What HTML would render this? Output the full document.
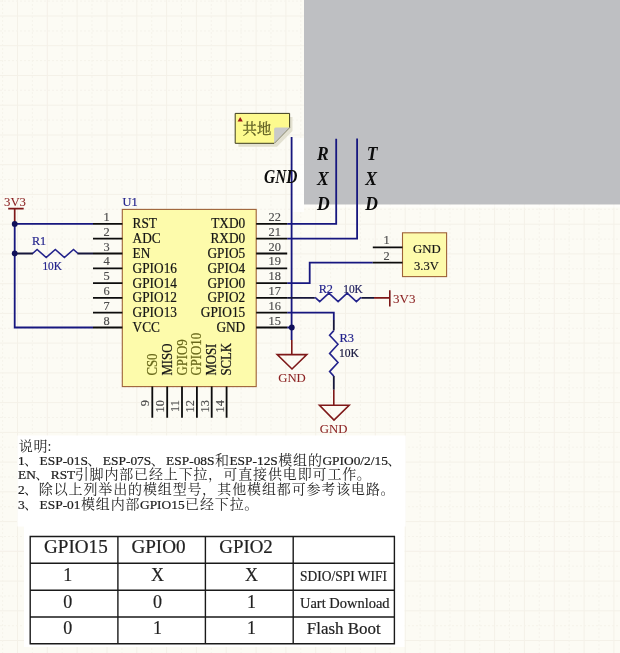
<!DOCTYPE html>
<html><head><meta charset="utf-8"><title>ESP8266 minimal circuit</title>
<style>html,body{margin:0;padding:0;background:#fcfbf4;}svg{display:block;font-family:"Liberation Serif",serif;will-change:transform;}</style>
</head><body>
<svg width="620" height="653" viewBox="0 0 620 653">
<rect x="0" y="0" width="620" height="653" fill="#fcfbf4"/>
<path d="M17.5 0V653M47.3 0V653M77.1 0V653M107.0 0V653M136.8 0V653M166.6 0V653M196.4 0V653M226.2 0V653M256.1 0V653M285.9 0V653M315.7 0V653M345.5 0V653M375.3 0V653M405.2 0V653M435.0 0V653M464.8 0V653M494.6 0V653M524.4 0V653M554.3 0V653M584.1 0V653M613.9 0V653M0 16.0H620M0 45.7H620M0 75.5H620M0 105.2H620M0 135.0H620M0 164.7H620M0 194.4H620M0 224.2H620M0 253.9H620M0 283.7H620M0 313.4H620M0 343.1H620M0 372.9H620M0 402.6H620M0 432.4H620M0 462.1H620M0 491.8H620M0 521.6H620M0 551.3H620M0 581.1H620M0 610.8H620M0 640.5H620" stroke="#f4f1e8" stroke-width="1" fill="none"/>
<path d="M2.6 0V653M32.4 0V653M62.2 0V653M92.0 0V653M121.9 0V653M151.7 0V653M181.5 0V653M211.3 0V653M241.1 0V653M271.0 0V653M300.8 0V653M330.6 0V653M360.4 0V653M390.2 0V653M420.1 0V653M449.9 0V653M479.7 0V653M509.5 0V653M539.3 0V653M569.2 0V653M599.0 0V653M0 1.1H620M0 30.9H620M0 60.6H620M0 90.3H620M0 120.1H620M0 149.8H620M0 179.6H620M0 209.3H620M0 239.1H620M0 268.8H620M0 298.5H620M0 328.3H620M0 358.0H620M0 387.8H620M0 417.5H620M0 447.2H620M0 477.0H620M0 506.7H620M0 536.5H620M0 566.2H620M0 595.9H620M0 625.7H620" stroke="#f5f3eb" stroke-width="1" stroke-dasharray="2 2" fill="none"/>
<rect x="304" y="0" width="316" height="204.6" fill="#bebfc2"/>
<rect x="292.5" y="138" width="11.5" height="74" fill="#ffffff" opacity="0.75"/><rect x="304" y="204.6" width="316" height="3" fill="#ffffff" opacity="0.5"/>
<rect x="17.4" y="435.5" width="388.2" height="91" fill="#ffffff"/><rect x="24" y="526" width="380.5" height="121" fill="#ffffff"/>
<path d="M238.4 117.1H292.5V131L277 146.7H238.4Z" fill="#e3e1d1"/>
<path d="M235.2 113.4H289.6V127.6L274.1 143.3H235.2Z" fill="#fdfa8e" stroke="#3c3c1c" stroke-width="1"/>
<path d="M274.1 143.3V129.2Q274.1 127.6 275.7 127.6H289.6Z" fill="#c9c9c9"/>
<path d="M237.6 121.6L240.2 117L242.8 121.6Z" fill="#a01818"/>
<text x="242.40 257.00" y="133.9" font-size="14.3" fill="#5e5e22" stroke="#5e5e22" stroke-width="0.3" font-family="'Liberation Serif','Noto Serif CJK SC',serif">共地</text>
<path d="M14.7 223.9H93.0 M14.7 223.9V327.5H93.0" stroke="#17177f" stroke-width="1.8" fill="none" />
<path d="M14.7 253.5H33 M77.4 253.5H93.0" stroke="#16163a" stroke-width="1.8" fill="none" />
<path d="M32.6 253.5L37.1 249.5L46.2 257.5L55.3 249.5L64.4 257.5L73.5 249.5L78.0 253.5" stroke="#23238c" stroke-width="1.6" fill="none" />
<path d="M14.7 223.9V208.6 M8.2 208.6H23.7" stroke="#7e1818" stroke-width="1.7" fill="none" />
<circle cx="14.7" cy="223.9" r="2.9" fill="#10105a"/><circle cx="14.7" cy="253.5" r="2.9" fill="#10105a"/>
<path d="M287.2 223.9H336.2V138.8" stroke="#17177f" stroke-width="1.8" fill="none" />
<path d="M287.2 238.7H357.1V138.5" stroke="#17177f" stroke-width="1.8" fill="none" />
<path d="M291.6 137V340 M287.2 327.5H291.6" stroke="#17177f" stroke-width="1.8" fill="none" />
<path d="M287.2 283.1H309.7V262.7H372.8" stroke="#17177f" stroke-width="1.8" fill="none" />
<path d="M287.2 297.9H314.8 M361.3 297.9H374" stroke="#16163a" stroke-width="1.8" fill="none" />
<path d="M315.1 297.4L319.7 301.7L328.9 293.1L338.1 301.7L347.2 293.1L356.4 301.7L361.0 297.4" stroke="#23238c" stroke-width="1.6" fill="none" />
<path d="M374 297.9H389.8 M389.8 290.3V306.6" stroke="#7e1818" stroke-width="1.6" fill="none" />
<path d="M287.2 312.7H333.8V320" stroke="#17177f" stroke-width="1.8" fill="none" />
<path d="M333.8 320V330.6 M333.8 376.1V389.7" stroke="#16163a" stroke-width="1.8" fill="none" />
<path d="M333.8 330.6L329.6 335.2L338.0 344.2L329.6 353.4L338.0 362.5L329.6 371.6L333.8 376.1" stroke="#23238c" stroke-width="1.6" fill="none" />
<circle cx="291.8" cy="327.5" r="2.9" fill="#10105a"/>
<path d="M291.8 340V354.6 M277.2 354.6H306.8L292 369Z" stroke="#7e1818" stroke-width="1.6" fill="none" />
<path d="M333.8 389.7V405.2 M319.5 405.2H349.1L334 420Z" stroke="#7e1818" stroke-width="1.6" fill="none" />
<rect x="122.3" y="209.4" width="133.9" height="177.2" fill="#fdfbab" stroke="#9e6238" stroke-width="1.1"/>
<path d="M93.0 223.9H122.4M93.0 238.7H122.4M93.0 253.5H122.4M93.0 268.3H122.4M93.0 283.1H122.4M93.0 297.9H122.4M93.0 312.7H122.4M93.0 327.5H122.4M256.2 223.9H287.2M256.2 238.7H287.2M256.2 253.5H287.2M256.2 268.3H287.2M256.2 283.1H287.2M256.2 297.9H287.2M256.2 312.7H287.2M256.2 327.5H287.2M152.3 386.6V417.7M167.2 386.6V417.7M182.0 386.6V417.7M196.9 386.6V417.7M211.7 386.6V417.7M226.6 386.6V417.7" stroke="#0c0c0c" stroke-width="1.8" fill="none" />
<text transform="translate(132.60 228.40) scale(0.9708 1)" font-size="13.7" fill="#161616" stroke="#161616" stroke-width="0.22" text-anchor="start">RST</text>
<text transform="translate(109.60 220.90) scale(0.9841 1)" font-size="12.6" fill="#4a4a4a" stroke="#4a4a4a" stroke-width="0.15" text-anchor="end">1</text>
<text transform="translate(132.60 243.20) scale(0.9708 1)" font-size="13.7" fill="#161616" stroke="#161616" stroke-width="0.22" text-anchor="start">ADC</text>
<text transform="translate(109.60 235.70) scale(0.9841 1)" font-size="12.6" fill="#4a4a4a" stroke="#4a4a4a" stroke-width="0.15" text-anchor="end">2</text>
<text transform="translate(132.60 258.00) scale(0.9708 1)" font-size="13.7" fill="#161616" stroke="#161616" stroke-width="0.22" text-anchor="start">EN</text>
<text transform="translate(109.60 250.50) scale(0.9841 1)" font-size="12.6" fill="#4a4a4a" stroke="#4a4a4a" stroke-width="0.15" text-anchor="end">3</text>
<text transform="translate(132.60 272.80) scale(0.9708 1)" font-size="13.7" fill="#161616" stroke="#161616" stroke-width="0.22" text-anchor="start">GPIO16</text>
<text transform="translate(109.60 265.30) scale(0.9841 1)" font-size="12.6" fill="#4a4a4a" stroke="#4a4a4a" stroke-width="0.15" text-anchor="end">4</text>
<text transform="translate(132.60 287.60) scale(0.9708 1)" font-size="13.7" fill="#161616" stroke="#161616" stroke-width="0.22" text-anchor="start">GPIO14</text>
<text transform="translate(109.60 280.10) scale(0.9841 1)" font-size="12.6" fill="#4a4a4a" stroke="#4a4a4a" stroke-width="0.15" text-anchor="end">5</text>
<text transform="translate(132.60 302.40) scale(0.9708 1)" font-size="13.7" fill="#161616" stroke="#161616" stroke-width="0.22" text-anchor="start">GPIO12</text>
<text transform="translate(109.60 294.90) scale(0.9841 1)" font-size="12.6" fill="#4a4a4a" stroke="#4a4a4a" stroke-width="0.15" text-anchor="end">6</text>
<text transform="translate(132.60 317.20) scale(0.9708 1)" font-size="13.7" fill="#161616" stroke="#161616" stroke-width="0.22" text-anchor="start">GPIO13</text>
<text transform="translate(109.60 309.70) scale(0.9841 1)" font-size="12.6" fill="#4a4a4a" stroke="#4a4a4a" stroke-width="0.15" text-anchor="end">7</text>
<text transform="translate(132.60 332.00) scale(0.9708 1)" font-size="13.7" fill="#161616" stroke="#161616" stroke-width="0.22" text-anchor="start">VCC</text>
<text transform="translate(109.60 324.50) scale(0.9841 1)" font-size="12.6" fill="#4a4a4a" stroke="#4a4a4a" stroke-width="0.15" text-anchor="end">8</text>
<text transform="translate(245.20 228.40) scale(0.9708 1)" font-size="13.7" fill="#161616" stroke="#161616" stroke-width="0.22" text-anchor="end">TXD0</text>
<text transform="translate(268.60 220.90) scale(0.9841 1)" font-size="12.6" fill="#4a4a4a" stroke="#4a4a4a" stroke-width="0.15" text-anchor="start">22</text>
<text transform="translate(245.20 243.20) scale(0.9708 1)" font-size="13.7" fill="#161616" stroke="#161616" stroke-width="0.22" text-anchor="end">RXD0</text>
<text transform="translate(268.60 235.70) scale(0.9841 1)" font-size="12.6" fill="#4a4a4a" stroke="#4a4a4a" stroke-width="0.15" text-anchor="start">21</text>
<text transform="translate(245.20 258.00) scale(0.9708 1)" font-size="13.7" fill="#161616" stroke="#161616" stroke-width="0.22" text-anchor="end">GPIO5</text>
<text transform="translate(268.60 250.50) scale(0.9841 1)" font-size="12.6" fill="#4a4a4a" stroke="#4a4a4a" stroke-width="0.15" text-anchor="start">20</text>
<text transform="translate(245.20 272.80) scale(0.9708 1)" font-size="13.7" fill="#161616" stroke="#161616" stroke-width="0.22" text-anchor="end">GPIO4</text>
<text transform="translate(268.60 265.30) scale(0.9841 1)" font-size="12.6" fill="#4a4a4a" stroke="#4a4a4a" stroke-width="0.15" text-anchor="start">19</text>
<text transform="translate(245.20 287.60) scale(0.9708 1)" font-size="13.7" fill="#161616" stroke="#161616" stroke-width="0.22" text-anchor="end">GPIO0</text>
<text transform="translate(268.60 280.10) scale(0.9841 1)" font-size="12.6" fill="#4a4a4a" stroke="#4a4a4a" stroke-width="0.15" text-anchor="start">18</text>
<text transform="translate(245.20 302.40) scale(0.9708 1)" font-size="13.7" fill="#161616" stroke="#161616" stroke-width="0.22" text-anchor="end">GPIO2</text>
<text transform="translate(268.60 294.90) scale(0.9841 1)" font-size="12.6" fill="#4a4a4a" stroke="#4a4a4a" stroke-width="0.15" text-anchor="start">17</text>
<text transform="translate(245.20 317.20) scale(0.9708 1)" font-size="13.7" fill="#161616" stroke="#161616" stroke-width="0.22" text-anchor="end">GPIO15</text>
<text transform="translate(268.60 309.70) scale(0.9841 1)" font-size="12.6" fill="#4a4a4a" stroke="#4a4a4a" stroke-width="0.15" text-anchor="start">16</text>
<text transform="translate(245.20 332.00) scale(0.9708 1)" font-size="13.7" fill="#161616" stroke="#161616" stroke-width="0.22" text-anchor="end">GND</text>
<text transform="translate(268.60 324.50) scale(0.9841 1)" font-size="12.6" fill="#4a4a4a" stroke="#4a4a4a" stroke-width="0.15" text-anchor="start">15</text>
<text transform="translate(156.80 375.60) rotate(-90) scale(0.8889 1)" font-size="14.4" fill="#68681a" stroke="#68681a" stroke-width="0.22" text-anchor="start">CS0</text>
<text transform="translate(149.40 400.00) rotate(-90) scale(0.9841 1)" font-size="12.6" fill="#4a4a4a" stroke="#4a4a4a" stroke-width="0.15" text-anchor="end">9</text>
<text transform="translate(171.66 375.60) rotate(-90) scale(0.8889 1)" font-size="14.4" fill="#161616" stroke="#161616" stroke-width="0.22" text-anchor="start">MISO</text>
<text transform="translate(164.26 400.00) rotate(-90) scale(0.9841 1)" font-size="12.6" fill="#4a4a4a" stroke="#4a4a4a" stroke-width="0.15" text-anchor="end">10</text>
<text transform="translate(186.52 375.60) rotate(-90) scale(0.8889 1)" font-size="14.4" fill="#68681a" stroke="#68681a" stroke-width="0.22" text-anchor="start">GPIO9</text>
<text transform="translate(179.12 400.00) rotate(-90) scale(0.9841 1)" font-size="12.6" fill="#4a4a4a" stroke="#4a4a4a" stroke-width="0.15" text-anchor="end">11</text>
<text transform="translate(201.38 375.60) rotate(-90) scale(0.8889 1)" font-size="14.4" fill="#68681a" stroke="#68681a" stroke-width="0.22" text-anchor="start">GPIO10</text>
<text transform="translate(193.98 400.00) rotate(-90) scale(0.9841 1)" font-size="12.6" fill="#4a4a4a" stroke="#4a4a4a" stroke-width="0.15" text-anchor="end">12</text>
<text transform="translate(216.24 375.60) rotate(-90) scale(0.8889 1)" font-size="14.4" fill="#161616" stroke="#161616" stroke-width="0.22" text-anchor="start">MOSI</text>
<text transform="translate(208.84 400.00) rotate(-90) scale(0.9841 1)" font-size="12.6" fill="#4a4a4a" stroke="#4a4a4a" stroke-width="0.15" text-anchor="end">13</text>
<text transform="translate(231.10 375.60) rotate(-90) scale(0.8889 1)" font-size="14.4" fill="#161616" stroke="#161616" stroke-width="0.22" text-anchor="start">SCLK</text>
<text transform="translate(223.70 400.00) rotate(-90) scale(0.9841 1)" font-size="12.6" fill="#4a4a4a" stroke="#4a4a4a" stroke-width="0.15" text-anchor="end">14</text>
<text x="122.6" y="205.8" font-size="13.3" fill="#23238c" text-anchor="start" textLength="15.1" lengthAdjust="spacingAndGlyphs"  stroke="#23238c" stroke-width="0.2">U1</text>
<rect x="402.5" y="232.8" width="44.1" height="43.8" fill="#fdfbab" stroke="#9e6238" stroke-width="1.1"/>
<path d="M372.8 247.3H402.5 M372.8 262.7H402.5" stroke="#0c0c0c" stroke-width="1.8" fill="none" />
<text transform="translate(389.60 244.40) scale(0.9841 1)" font-size="12.6" fill="#4a4a4a" stroke="#4a4a4a" stroke-width="0.15" text-anchor="end">1</text>
<text transform="translate(389.60 259.60) scale(0.9841 1)" font-size="12.6" fill="#4a4a4a" stroke="#4a4a4a" stroke-width="0.15" text-anchor="end">2</text>
<text x="413" y="252.6" font-size="13.5" fill="#161616" text-anchor="start" textLength="27.6" lengthAdjust="spacingAndGlyphs"  stroke="#161616" stroke-width="0.2">GND</text>
<text x="414" y="269.9" font-size="13.5" fill="#161616" text-anchor="start" textLength="24.8" lengthAdjust="spacingAndGlyphs"  stroke="#161616" stroke-width="0.2">3.3V</text>
<text x="4" y="206" font-size="13.3" fill="#8c2323" text-anchor="start" textLength="22" lengthAdjust="spacingAndGlyphs"  stroke="#8c2323" stroke-width="0.08">3V3</text>
<text x="31.9" y="244.7" font-size="13.3" fill="#23238c" text-anchor="start" textLength="14.2" lengthAdjust="spacingAndGlyphs"  stroke="#23238c" stroke-width="0.2">R1</text>
<text x="42.4" y="269.7" font-size="12.8" fill="#23238c" text-anchor="start" textLength="19.5" lengthAdjust="spacingAndGlyphs"  stroke="#23238c" stroke-width="0.2">10K</text>
<text x="318.7" y="293" font-size="13.3" fill="#23238c" text-anchor="start" textLength="14.3" lengthAdjust="spacingAndGlyphs"  stroke="#23238c" stroke-width="0.2">R2</text>
<text x="343.2" y="293" font-size="12.8" fill="#1c1c5c" text-anchor="start" textLength="19.6" lengthAdjust="spacingAndGlyphs"  stroke="#1c1c5c" stroke-width="0.2">10K</text>
<text x="393" y="302.7" font-size="13.3" fill="#8c2323" text-anchor="start" textLength="22.4" lengthAdjust="spacingAndGlyphs"  stroke="#8c2323" stroke-width="0.08">3V3</text>
<text x="339.6" y="341.6" font-size="13.3" fill="#23238c" text-anchor="start" textLength="14.5" lengthAdjust="spacingAndGlyphs"  stroke="#23238c" stroke-width="0.2">R3</text>
<text x="339" y="356.8" font-size="12.8" fill="#14143c" text-anchor="start" textLength="20" lengthAdjust="spacingAndGlyphs"  stroke="#14143c" stroke-width="0.2">10K</text>
<text x="278.2" y="382" font-size="13.3" fill="#8c2323" text-anchor="start" textLength="27.6" lengthAdjust="spacingAndGlyphs"  stroke="#8c2323" stroke-width="0.08">GND</text>
<text x="319.7" y="432.6" font-size="13.3" fill="#8c2323" text-anchor="start" textLength="27.7" lengthAdjust="spacingAndGlyphs"  stroke="#8c2323" stroke-width="0.08">GND</text>
<text x="264" y="182.9" font-size="18.8" fill="#0c0c0c" text-anchor="start" textLength="33.4" lengthAdjust="spacingAndGlyphs" font-weight="bold" font-style="italic">GND</text>
<text transform="translate(317.0 159.8) scale(0.936 1)" font-size="18.8" fill="#0c0c0c" font-weight="bold" font-style="italic">R</text>
<text transform="translate(317.0 184.9) scale(0.936 1)" font-size="18.8" fill="#0c0c0c" font-weight="bold" font-style="italic">X</text>
<text transform="translate(317.0 209.7) scale(0.936 1)" font-size="18.8" fill="#0c0c0c" font-weight="bold" font-style="italic">D</text>
<text transform="translate(366.8 160.2) scale(0.936 1)" font-size="18.8" fill="#0c0c0c" font-weight="bold" font-style="italic">T</text>
<text transform="translate(365.2 185.0) scale(0.936 1)" font-size="18.8" fill="#0c0c0c" font-weight="bold" font-style="italic">X</text>
<text transform="translate(365.2 209.9) scale(0.936 1)" font-size="18.8" fill="#0c0c0c" font-weight="bold" font-style="italic">D</text>
<g font-family="'Liberation Serif','Noto Serif CJK SC',serif" font-size="14" fill="#1e1e1e">
<text x="18.63 33.51 47.5" y="450.5">说明:</text>
<text x="24.10" y="464.9">、</text>
<text x="87.37" y="464.9">、</text>
<text x="150.65" y="464.9">、</text>
<text x="214.96" y="464.9">和</text>
<text x="278.23 293.10 307.97" y="464.9">模组的</text>
<text x="387.32" y="464.9">、</text>
<text x="35.26" y="478.9">、</text>
<text x="74.64 89.51 104.38 119.25 134.12 148.99 163.86 178.73 193.60 208.03 223.34 238.21 253.08 267.95 282.82 297.69 312.56 327.43 342.30 356.73" y="478.9">引脚内部已经上下拉，可直接供电即可工作。</text>
<text x="24.10" y="494.1">、</text>
<text x="38.84 53.70 68.58 83.45 98.32 113.19 128.06 142.93 157.80 172.67 187.54 201.97 217.28 232.15 247.02 261.89 276.76 291.63 306.50 321.37 336.24 351.11 365.98 380.41" y="494.1">除以上列举出的模组型号，其他模组都可参考该电路。</text>
<text x="24.10" y="509.1">、</text>
<text x="80.96 95.83 110.70 125.57" y="509.1">模组内部</text>
<text x="185.11 199.98 214.85 229.72 244.15" y="509.1">已经下拉。</text>
</g>
<text transform="translate(18.00 464.8) scale(1.0635 1)" font-size="12.6" fill="#1e1e1e" stroke="#1e1e1e" stroke-width="0.22">1</text>
<text transform="translate(39.57 464.8) scale(1.0635 1)" font-size="12.6" fill="#1e1e1e" stroke="#1e1e1e" stroke-width="0.22">ESP-01S</text>
<text transform="translate(102.84 464.8) scale(1.0635 1)" font-size="12.6" fill="#1e1e1e" stroke="#1e1e1e" stroke-width="0.22">ESP-07S</text>
<text transform="translate(166.12 464.8) scale(1.0635 1)" font-size="12.6" fill="#1e1e1e" stroke="#1e1e1e" stroke-width="0.22">ESP-08S</text>
<text transform="translate(229.39 464.8) scale(1.0635 1)" font-size="12.6" fill="#1e1e1e" stroke="#1e1e1e" stroke-width="0.22">ESP-12S</text>
<text transform="translate(322.41 464.8) scale(1.0635 1)" font-size="12.6" fill="#1e1e1e" stroke="#1e1e1e" stroke-width="0.22">GPIO0/2/15</text>
<text transform="translate(18.00 479.3) scale(1.0635 1)" font-size="12.6" fill="#1e1e1e" stroke="#1e1e1e" stroke-width="0.22">EN</text>
<text transform="translate(50.73 479.3) scale(1.0635 1)" font-size="12.6" fill="#1e1e1e" stroke="#1e1e1e" stroke-width="0.22">RST</text>
<text transform="translate(18.00 494.0) scale(1.0635 1)" font-size="12.6" fill="#1e1e1e" stroke="#1e1e1e" stroke-width="0.22">2</text>
<text transform="translate(18.00 509.1) scale(1.0635 1)" font-size="12.6" fill="#1e1e1e" stroke="#1e1e1e" stroke-width="0.22">3</text>
<text transform="translate(39.57 509.1) scale(1.0635 1)" font-size="12.6" fill="#1e1e1e" stroke="#1e1e1e" stroke-width="0.22">ESP-01</text>
<text transform="translate(140.00 509.1) scale(1.0635 1)" font-size="12.6" fill="#1e1e1e" stroke="#1e1e1e" stroke-width="0.22">GPIO15</text>
<rect x="30.2" y="536.5" width="364.2" height="107.2" fill="#ffffff"/>
<path d="M30.2 536.5V643.7M117.9 536.5V643.7M205.4 536.5V643.7M293.2 536.5V643.7M394.4 536.5V643.7M30.2 536.5H394.4M30.2 563.3H394.4M30.2 590.2H394.4M30.2 617.0H394.4M30.2 643.7H394.4" stroke="#1a1a1a" stroke-width="1.4" fill="none" stroke-linecap="square"/>
<text x="44" y="552.9" font-size="19" fill="#222222" text-anchor="start" textLength="63.7" lengthAdjust="spacingAndGlyphs"  stroke="#222222" stroke-width="0.2">GPIO15</text>
<text x="131.4" y="552.9" font-size="19" fill="#222222" text-anchor="start" textLength="54.2" lengthAdjust="spacingAndGlyphs"  stroke="#222222" stroke-width="0.2">GPIO0</text>
<text x="219.3" y="552.9" font-size="19" fill="#222222" text-anchor="start" textLength="53.5" lengthAdjust="spacingAndGlyphs"  stroke="#222222" stroke-width="0.2">GPIO2</text>
<text x="67.7" y="580.6" font-size="18" fill="#222222" text-anchor="middle"  stroke="#222222" stroke-width="0.2">1</text>
<text x="157.6" y="580.6" font-size="18" fill="#222222" text-anchor="middle"  stroke="#222222" stroke-width="0.2">X</text>
<text x="251.5" y="580.6" font-size="18" fill="#222222" text-anchor="middle"  stroke="#222222" stroke-width="0.2">X</text>
<text x="67.7" y="607.5" font-size="18" fill="#222222" text-anchor="middle"  stroke="#222222" stroke-width="0.2">0</text>
<text x="157.6" y="607.5" font-size="18" fill="#222222" text-anchor="middle"  stroke="#222222" stroke-width="0.2">0</text>
<text x="251.5" y="607.5" font-size="18" fill="#222222" text-anchor="middle"  stroke="#222222" stroke-width="0.2">1</text>
<text x="67.7" y="634.3" font-size="18" fill="#222222" text-anchor="middle"  stroke="#222222" stroke-width="0.2">0</text>
<text x="157.6" y="634.3" font-size="18" fill="#222222" text-anchor="middle"  stroke="#222222" stroke-width="0.2">1</text>
<text x="251.5" y="634.3" font-size="18" fill="#222222" text-anchor="middle"  stroke="#222222" stroke-width="0.2">1</text>
<text x="300.1" y="581" font-size="13.6" fill="#222222" text-anchor="start" textLength="86.8" lengthAdjust="spacingAndGlyphs"  stroke="#222222" stroke-width="0.2">SDIO/SPI WIFI</text>
<text x="300" y="607.6" font-size="14.5" fill="#222222" text-anchor="start" textLength="89.6" lengthAdjust="spacingAndGlyphs"  stroke="#222222" stroke-width="0.2">Uart Download</text>
<text x="306.8" y="633.8" font-size="17" fill="#222222" text-anchor="start" textLength="73.8" lengthAdjust="spacingAndGlyphs"  stroke="#222222" stroke-width="0.2">Flash Boot</text>
</svg>
</body></html>
